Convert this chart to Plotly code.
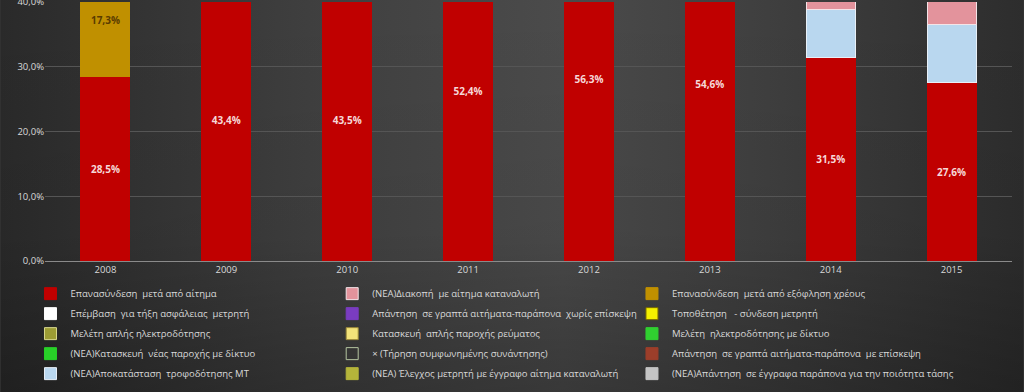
import base64
import plotly.graph_objects as go

years = ["2008", "2009", "2010", "2011", "2012", "2013", "2014", "2015"]

reconnect_request = [28.5, 43.4, 43.5, 52.4, 56.3, 54.6, 31.5, 27.6]
reconnect_debt = [17.3, None, None, None, None, None, None, None]
restore_mt = [None, None, None, None, None, None, 7.3, 9.0]
disconnect_request = [None, None, None, None, None, None, 5.0, 6.0]
empty = [None] * 8

y_ticks = [0, 10, 20, 30, 40]
y_tick_labels = ["0,0%", "10,0%", "20,0%", "30,0%", "40,0%"]

# (name, values, fill, line colour, legend rank, show labels, label colour)
series = [
    ("Επανασύνδεση  μετά από αίτημα", reconnect_request, "#c00000", "#c00000", 1, True, "#f6d8d8"),
    ("Επανασύνδεση  μετά από εξόφληση χρέους", reconnect_debt, "#c09000", "#c09000", 3, True, "#5a3c00"),
    ("(ΝΕΑ)Αποκατάσταση  τροφοδότησης ΜΤ", restore_mt, "#b9d7ef", "#e8f0f8", 13, False, None),
    ("(ΝΕΑ)Διακοπή  με αίτημα καταναλωτή", disconnect_request, "#e3939c", "#f4e4e8", 2, False, None),
    ("Επέμβαση  για τήξη ασφάλειας  μετρητή", empty, "#ffffff", "#ffffff", 4, False, None),
    ("Απάντηση  σε γραπτά αιτήματα-παράπονα  χωρίς επίσκεψη", empty, "#7a3cc0", "#7a3cc0", 5, False, None),
    ("Τοποθέτηση   - σύνδεση μετρητή", empty, "#f4f000", "#7a6a00", 6, False, None),
    ("Μελέτη απλής ηλεκτροδότησης", empty, "#9c9c34", "#d8d88c", 7, False, None),
    ("Κατασκευή  απλής παροχής ρεύματος", empty, "#f2e27a", "#9c8a3a", 8, False, None),
    ("Μελέτη  ηλεκτροδότησης με δίκτυο", empty, "#30d030", "#30d030", 9, False, None),
    ("(ΝΕΑ)Κατασκευή  νέας παροχής με δίκτυο", empty, "#28d028", "#28d028", 10, False, None),
    ("× (Τήρηση συμφωνημένης συνάντησης)", empty, "rgba(0,0,0,0)", "#b4c4a0", 11, False, None),
    ("Απάντηση  σε γραπτά αιτήματα-παράπονα  με επίσκεψη", empty, "#9c3e2a", "#9c3e2a", 12, False, None),
    ("(ΝΕΑ) Έλεγχος μετρητή με έγγραφο αίτημα καταναλωτή", empty, "#b4b43a", "#b4b43a", 14, False, None),
    ("(ΝΕΑ)Απάντηση  σε έγγραφα παράπονα για την ποιότητα τάσης", empty, "#c4c4c4", "#c4c4c4", 15, False, None),
]

legend_ids = ["legend", "legend2", "legend3"]

fig = go.Figure()
for name, vals, fill, line, rank, labels, lcol in series:
    kw = {}
    if labels:
        kw = dict(
            texttemplate="%{y:.1f}%",
            textposition="inside",
            insidetextanchor="middle",
            textangle=0,
            constraintext="none",
            textfont=dict(family="Open Sans", size=10, color=lcol, weight="bold"),
        )
    fig.add_trace(go.Bar(
        x=years, y=vals, name=name, legendrank=rank,
        legend=legend_ids[(rank - 1) % 3], legendgroup=f"g{rank:02d}",
        marker=dict(color=fill, line=dict(color=line, width=1)),
        hoverinfo="skip", **kw,
    ))

svg = """<svg xmlns='http://www.w3.org/2000/svg' width='1024' height='392' preserveAspectRatio='none'>
<defs>
<linearGradient id='h' x1='0' y1='0' x2='1' y2='0'>
<stop offset='0' stop-color='#2a2a2a'/>
<stop offset='0.3' stop-color='#3f3f3f'/>
<stop offset='0.55' stop-color='#4b4b4b'/>
<stop offset='0.75' stop-color='#3f3f3f'/>
<stop offset='1' stop-color='#2d2d2d'/>
</linearGradient>
<linearGradient id='v' x1='0' y1='0' x2='0' y2='1'>
<stop offset='0' stop-color='#000' stop-opacity='0'/>
<stop offset='0.6' stop-color='#000' stop-opacity='0.05'/>
<stop offset='1' stop-color='#000' stop-opacity='0.25'/>
</linearGradient>
</defs>
<rect width='1024' height='392' fill='url(#h)'/>
<rect width='1024' height='392' fill='url(#v)'/>
</svg>"""
src = "data:image/svg+xml;base64," + base64.b64encode(svg.encode()).decode()

L, R, T, B = 44.5, 11.5, 2, 131
pw = 1024 - L - R
ph = 392 - T - B

fig.add_layout_image(
    source=src, xref="paper", yref="paper",
    x=-L / pw, y=1 + T / ph, sizex=1024 / pw, sizey=392 / ph,
    xanchor="left", yanchor="top", sizing="stretch", layer="below",
)

legend_style = dict(orientation="v", y=-0.07, xanchor="left", yanchor="top",
                    traceorder="grouped", tracegroupgap=1,
                    font=dict(size=9.5, color="#d9d9d9"), bgcolor="rgba(0,0,0,0)",
                    itemwidth=30)

fig.update_layout(
    width=1024, height=392,
    margin=dict(l=L, r=R, t=T, b=B, autoexpand=False),
    paper_bgcolor="#333333", plot_bgcolor="rgba(0,0,0,0)",
    barmode="stack", bargap=0.595,
    separators=",.",
    font=dict(family="Open Sans", size=10, color="#d9d9d9"),
    xaxis=dict(showgrid=False, showline=True, linecolor="#8a8a8a", linewidth=1,
               ticks="", tickfont=dict(size=9.5, color="#d9d9d9")),
    yaxis=dict(range=[0, 40], tickmode="array", tickvals=y_ticks, ticktext=y_tick_labels,
               ticklabeloverflow="allow",
               showgrid=True, gridcolor="#555555", gridwidth=1, zeroline=False,
               showline=False, ticks="", tickfont=dict(size=9.5, color="#d9d9d9")),
    legend=dict(x=-0.015, **legend_style),
    legend2=dict(x=0.297, **legend_style),
    legend3=dict(x=0.607, **legend_style),
    showlegend=True,
)

fig.write_html("out.html", config={"displayModeBar": False},
               post_script="document.body.style.margin='0';document.body.style.overflow='hidden';")
